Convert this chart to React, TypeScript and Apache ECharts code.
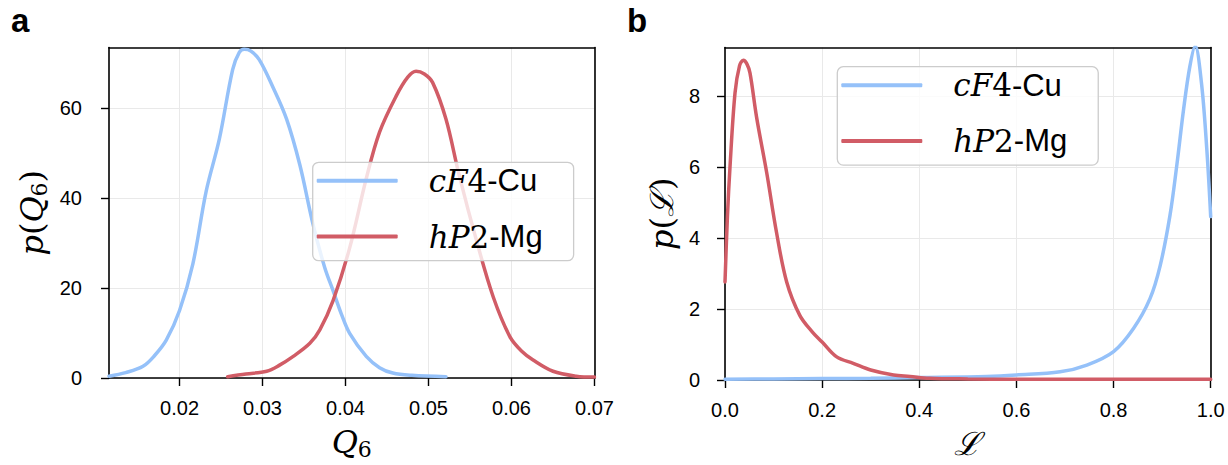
import React, { useEffect, useRef } from "react";
import * as echarts from "echarts";

// ---- Data ----
// Panel a: p(Q6)
const cuQ6X = [0.0115, 0.0135, 0.0156, 0.017, 0.0184, 0.02, 0.0216, 0.0232, 0.0248, 0.0264, 0.0272, 0.0278, 0.0286, 0.0296, 0.0312, 0.0329, 0.0345, 0.0361, 0.0375, 0.0385, 0.0395, 0.0405, 0.0425, 0.0441, 0.0457, 0.048, 0.0521];
const cuQ6Y = [0.4, 1.2, 2.6, 5, 8.4, 15, 25.3, 41.4, 53.1, 68.5, 72.3, 73, 72.6, 70.7, 64.8, 57.5, 47.3, 34, 24.5, 19.4, 14.2, 9.9, 4.8, 2.3, 1.1, 0.6, 0.3];
const mgQ6X = [0.0258, 0.028, 0.0305, 0.032, 0.0337, 0.0357, 0.0369, 0.0385, 0.0405, 0.0425, 0.0441, 0.0461, 0.0475, 0.0485, 0.0495, 0.0505, 0.0521, 0.0537, 0.0558, 0.0578, 0.0598, 0.0612, 0.0626, 0.065, 0.0678, 0.07];
const mgQ6Y = [0.3, 0.9, 1.5, 2.8, 4.8, 7.7, 10.7, 17.2, 28.9, 44.3, 54.6, 62.6, 66.8, 68.1, 67.5, 65.6, 57.5, 45, 30.4, 18, 9.2, 6, 4, 1.5, 0.4, 0.2];

// Panel b: p(L)
const cuLX = [0, 0.1, 0.2, 0.3, 0.4, 0.539, 0.6, 0.69, 0.745, 0.8, 0.841, 0.875, 0.896, 0.916, 0.93, 0.944, 0.957, 0.968, 0.981, 0.992, 1.0];
const cuLY = [0.02, 0.03, 0.04, 0.05, 0.07, 0.1, 0.14, 0.23, 0.42, 0.8, 1.45, 2.29, 3.22, 4.62, 6.02, 7.6, 8.82, 9.4, 8.36, 6.49, 4.6];
const mgLX = [0, 0.005, 0.0103, 0.0206, 0.03, 0.0377, 0.045, 0.0515, 0.065, 0.0858, 0.106, 0.127, 0.154, 0.18, 0.2, 0.23, 0.264, 0.3, 0.347, 0.381, 0.42, 0.5, 0.6, 0.7, 0.8, 0.9, 1.0];
const mgLY = [2.76, 4.6, 6.0, 8.08, 8.85, 9.0, 8.9, 8.64, 7.4, 5.84, 4.16, 2.76, 1.82, 1.35, 1.07, 0.65, 0.47, 0.28, 0.14, 0.1, 0.05, 0.03, 0.02, 0.02, 0.02, 0.02, 0.02];

const q6Ticks = [0.02, 0.03, 0.04, 0.05, 0.06, 0.07];
const pQ6Ticks = [0, 20, 40, 60];
const lTicks = [0, 0.2, 0.4, 0.6, 0.8, 1.0];
const pLTicks = [0, 2, 4, 6, 8];

const seriesNames = ["cF4-Cu", "hP2-Mg"];
const BLUE = "#95c1f9";
const RED = "#d15c66";

const zip = (xs: number[], ys: number[]) => xs.map((x, i) => [x, ys[i]]);

const SANS = "Liberation Sans";
const SERIF = "DejaVu Serif";

const mathRich = (size: number, lh: number) => ({
  i: { fontFamily: SERIF, fontStyle: "italic", fontSize: size, lineHeight: lh, color: "#000" },
  n: { fontFamily: SERIF, fontSize: size, lineHeight: lh, color: "#000" },
  sub: { fontFamily: SERIF, fontSize: Math.round(size * 0.68), lineHeight: Math.round(lh * 0.5), verticalAlign: "bottom", color: "#000" },
  scr: { fontFamily: SERIF, fontStyle: "italic", fontSize: size, lineHeight: lh, color: "#000" },
});

const legendRich = {
  sp: { width: 26, fontSize: 30, lineHeight: 34 },
  mi: { fontFamily: SERIF, fontStyle: "italic", fontSize: 31, lineHeight: 34, color: "#000" },
  mn: { fontFamily: SERIF, fontSize: 31, lineHeight: 34, color: "#000" },
  s: { fontFamily: SANS, fontSize: 31, lineHeight: 34, color: "#000" },
};

const legendFormatter = (name: string) =>
  name === "cF4-Cu" ? "{sp| }{mi|cF}{mn|4}{s|-Cu}" : "{sp| }{mi|hP}{mn|2}{s|-Mg}";

const makeLegend = (left: number, top: number) => ({
  data: seriesNames,
  orient: "vertical",
  left,
  top,
  icon: "roundRect",
  itemWidth: 81,
  itemHeight: 4,
  itemGap: 24.7,
  padding: [3, 31, 8.7, 4],
  selectedMode: false,
  backgroundColor: "rgba(255,255,255,0.8)",
  borderColor: "#cccccc",
  borderWidth: 1.3,
  borderRadius: 6,
  formatter: legendFormatter,
  textStyle: { rich: legendRich },
});

const axisLineStyle = { show: true, lineStyle: { color: "#000", width: 1.6 } };
const tickStyle = (vals: number[]) => ({ show: true, inside: false, length: 8, lineStyle: { color: "#000", width: 1.4 }, customValues: vals });
const splitStyle = { show: true, lineStyle: { color: "#e9e9e9", width: 1 } };
const labelStyle = (vals: number[], margin: number, fmt?: (v: number) => string) => ({
  show: true,
  customValues: vals,
  margin,
  fontFamily: SANS,
  fontSize: 20,
  lineHeight: 20,
  color: "#000",
  formatter: fmt,
});
// frame-only axes (top / right spines)
const frameAxis = (gridIndex: number, position: string, min: number, max: number) => ({
  type: "value",
  gridIndex,
  position,
  min,
  max,
  axisLine: { show: true, onZero: false, lineStyle: { color: "#000", width: 1.6 } },
  axisTick: { show: false },
  axisLabel: { show: false },
  splitLine: { show: false },
});

export default function App() {
  const ref = useRef<HTMLDivElement>(null);
  useEffect(() => {
    if (!ref.current) return;
    const chart = echarts.init(ref.current, null, { renderer: "svg" });
    const gridTop = 47.5;
    const gridH = 334.2;
    const option = {
      animation: false,
      backgroundColor: "#ffffff",
      grid: [
        { left: 109, top: gridTop, width: 485.5, height: gridH, show: false },
        { left: 725, top: gridTop, width: 485.7, height: gridH, show: false },
      ],
      legend: [makeLegend(312.7, 162.3), makeLegend(837.3, 66.7)],
      xAxis: [
        {
          type: "value",
          gridIndex: 0,
          position: "bottom",
          min: 0.0115,
          max: 0.07,
          axisLine: { ...axisLineStyle, onZero: false },
          axisTick: tickStyle(q6Ticks),
          splitLine: splitStyle,
          axisLabel: labelStyle(q6Ticks, 20, (v: number) => v.toFixed(2)),
          name: "{i|Q}{sub|6}",
          nameLocation: "middle",
          nameGap: 46,
          nameTextStyle: { rich: mathRich(32, 36) },
        },
        {
          type: "value",
          gridIndex: 1,
          position: "bottom",
          min: 0,
          max: 1,
          axisLine: { ...axisLineStyle, onZero: false },
          axisTick: tickStyle(lTicks),
          splitLine: splitStyle,
          axisLabel: labelStyle(lTicks, 20, (v: number) => v.toFixed(1)),
          name: "{scr|ℒ}",
          nameLocation: "middle",
          nameGap: 46,
          nameTextStyle: { rich: mathRich(32, 36) },
        },
        frameAxis(0, "top", 0.0115, 0.07),
        frameAxis(1, "top", 0, 1),
      ],
      yAxis: [
        {
          type: "value",
          gridIndex: 0,
          position: "left",
          min: 0,
          max: 73.4,
          axisLine: { ...axisLineStyle, onZero: false },
          axisTick: tickStyle(pQ6Ticks),
          splitLine: splitStyle,
          axisLabel: labelStyle(pQ6Ticks, 27),
          name: "{i|p}{n|(}{i|Q}{sub|6}{n|)}",
          nameLocation: "middle",
          nameGap: 59,
          nameTextStyle: { rich: mathRich(32, 36) },
        },
        {
          type: "value",
          gridIndex: 1,
          position: "left",
          min: 0,
          max: 9.36,
          axisLine: { ...axisLineStyle, onZero: false },
          axisTick: tickStyle(pLTicks),
          splitLine: splitStyle,
          axisLabel: labelStyle(pLTicks, 25),
          name: "{i|p}{n|(}{scr|ℒ}{n|)}",
          nameLocation: "middle",
          nameGap: 45,
          nameTextStyle: { rich: mathRich(32, 36) },
        },
        frameAxis(0, "right", 0, 73.4),
        frameAxis(1, "right", 0, 9.36),
      ],
      series: [
        { name: "cF4-Cu", type: "line", xAxisIndex: 0, yAxisIndex: 0, data: zip(cuQ6X, cuQ6Y), smooth: 0.35, showSymbol: false, symbol: "none", lineStyle: { color: BLUE, width: 3.5, cap: "round" }, itemStyle: { color: BLUE } },
        { name: "hP2-Mg", type: "line", xAxisIndex: 0, yAxisIndex: 0, data: zip(mgQ6X, mgQ6Y), smooth: 0.35, showSymbol: false, symbol: "none", lineStyle: { color: RED, width: 3.5, cap: "round" }, itemStyle: { color: RED } },
        { name: "cF4-Cu", type: "line", xAxisIndex: 1, yAxisIndex: 1, data: zip(cuLX, cuLY), smooth: 0.35, showSymbol: false, symbol: "none", lineStyle: { color: BLUE, width: 3.5, cap: "round" }, itemStyle: { color: BLUE } },
        { name: "hP2-Mg", type: "line", xAxisIndex: 1, yAxisIndex: 1, data: zip(mgLX, mgLY), smooth: 0.35, showSymbol: false, symbol: "none", lineStyle: { color: RED, width: 3.5, cap: "round" }, itemStyle: { color: RED } },
      ],
      graphic: [
        { type: "text", left: 11, top: 4, style: { text: "a", fontFamily: SANS, fontWeight: "bold", fontSize: 33, fill: "#000" } },
        { type: "text", left: 627, top: 4, style: { text: "b", fontFamily: SANS, fontWeight: "bold", fontSize: 33, fill: "#000" } },
      ],
    };
    chart.setOption(option as any);
    return () => chart.dispose();
  }, []);
  return <div ref={ref} style={{ position: "fixed", left: 0, top: 0, width: 1228, height: 465 }} />;
}
